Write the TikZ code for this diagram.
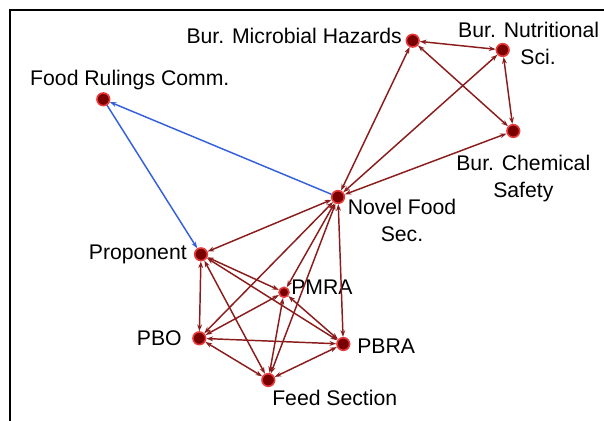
\documentclass[tikz,border=0pt]{standalone}
\usepackage{fontspec}
\setmainfont{Liberation Sans}
\usetikzlibrary{calc,positioning,arrows.meta}

\definecolor{nodered}{HTML}{7A0000}
\definecolor{glowred}{HTML}{E83A3A}
\definecolor{edgered}{HTML}{8B1C1C}
\definecolor{linkblue}{HTML}{3560DC}

\tikzset{
  agency/.style={circle,fill=nodered,draw=glowred,line width=1.2pt,minimum size=9.5pt,inner sep=0pt},
  small agency/.style={agency,minimum size=7.5pt},
  lbl/.style={draw=none,fill=none,inner sep=0pt,align=center,font=\fontsize{15.9}{20.25}\selectfont},
  tie/.style={{Stealth[length=5pt,width=3.6pt]}-{Stealth[length=5pt,width=3.6pt]},draw=edgered,line width=1.1pt},
  ruling/.style={-{Stealth[length=5pt,width=3.6pt]},draw=linkblue,line width=1.1pt}
}

\begin{document}
\begin{tikzpicture}[x=0.75pt,y=-0.75pt]
  \useasboundingbox (0,0) rectangle (604,421);

  % Frame
  \draw[line width=1.5pt] (10,421) -- (10,10) -- (604,10);

  % Bureaus
  \node[agency] (BMH) at (412.7,40.7) {};
  \node[agency] (BNS) at (502.7,50) {};
  \node[agency] (BCS) at (513.3,131) {};
  \node[lbl,anchor=base east] (bmhlabel) at ($(BMH)+(-10.7,2.3)$) {Bur. Microbial Hazards};
  \node[lbl,anchor=north] (bnslabel) at ($(BNS)+(26,-28)$) {Bur. Nutritional\\\hspace*{14pt}Sci.};
  \node[lbl,anchor=north] (bcslabel) at ($(BCS)+(10,24)$) {Bur. Chemical\\Safety};

  % Committee and section
  \node[agency] (FRC) at (103.3,99.3) {};
  \node[agency] (NFS) at (338,197) {};
  \node[lbl,anchor=base] (frclabel) at ($(FRC)+(26.5,-14)$) {Food Rulings Comm.};
  \node[lbl,anchor=north] (nfslabel) at ($(NFS)+(64,2)$) {Novel Food\\Sec.};

  % Lower group
  \node[agency] (P) at (201,254.3) {};
  \node[small agency] (PMRA) at (284,292.3) {};
  \node[agency] (PBO) at (199.3,338.3) {};
  \node[agency] (PBRA) at (343.3,344) {};
  \node[agency] (FS) at (268.3,380) {};
  \node[lbl,anchor=base east] (plabel) at ($(P)+(-14,4.7)$) {Proponent};
  \node[lbl,anchor=base west] (pmralabel) at ($(PMRA)+(7,1.7)$) {PMRA};
  \node[lbl,anchor=base east] (pbolabel) at ($(PBO)+(-17.3,6.7)$) {PBO};
  \node[lbl,anchor=base west] (pbralabel) at ($(PBRA)+(13.7,9)$) {PBRA};
  \node[lbl,anchor=base west] (fslabel) at ($(FS)+(3.7,25)$) {Feed Section};

  % Rulings
  \draw[ruling] (NFS) -- (FRC);
  \draw[ruling] (FRC) -- (P);

  % Bureau ties
  \draw[tie] (BMH) -- (BNS);
  \draw[tie] (BMH) -- (BCS);
  \draw[tie] (BNS) -- (BCS);
  \draw[tie] (NFS) -- (BMH);
  \draw[tie] (NFS) -- (BNS);
  \draw[tie] (NFS) -- (BCS);

  % Section ties
  \draw[tie] (NFS) -- (P);
  \draw[tie] (NFS) -- (PBO);
  \draw[tie] (NFS) -- (PMRA);
  \draw[tie] (NFS) -- (FS);
  \draw[tie] (NFS) -- (PBRA);

  % Group ties
  \draw[tie] (P) -- (PBO);
  \draw[tie] (P) -- (PMRA);
  \draw[tie] (P) -- (PBRA);
  \draw[tie] (P) -- (FS);
  \draw[tie] (PBO) -- (PMRA);
  \draw[tie] (PBO) -- (PBRA);
  \draw[tie] (PBO) -- (FS);
  \draw[tie] (PMRA) -- (FS);
  \draw[tie] (PMRA) -- (PBRA);
  \draw[tie] (FS) -- (PBRA);

\end{tikzpicture}
\end{document}
